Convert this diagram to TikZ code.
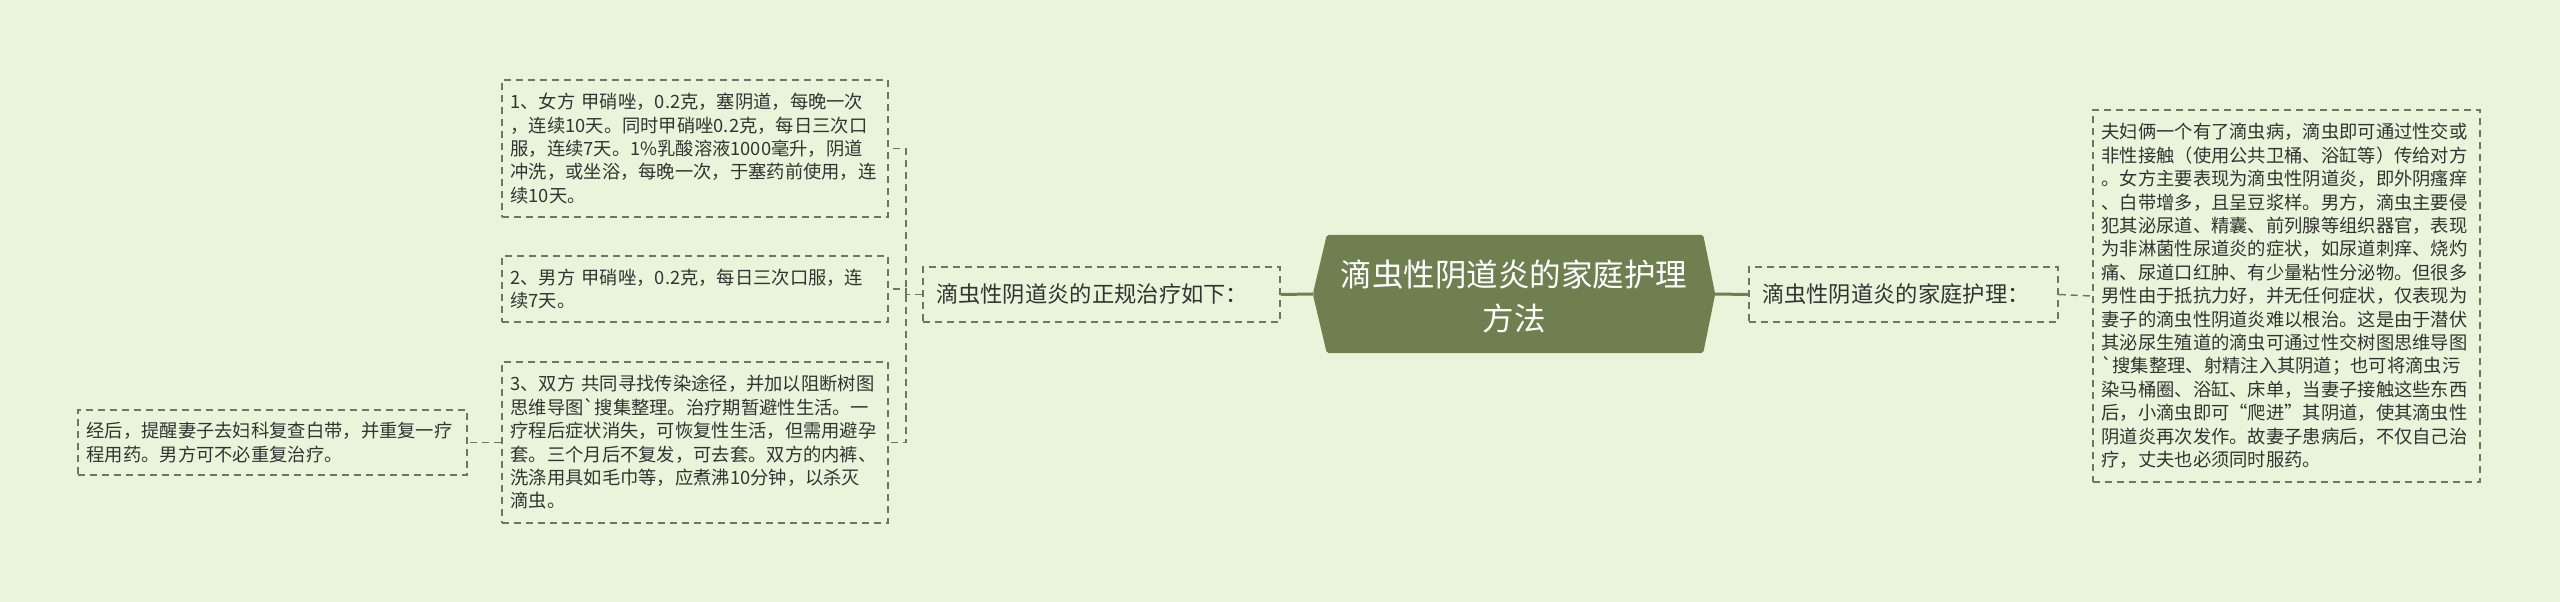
\documentclass[tikz,border=0pt]{standalone}
\usepackage{fontspec}
\setmainfont{Noto Sans CJK SC}[Ligatures=TeXOff]
\definecolor{bgc}{RGB}{233,245,219}
\definecolor{hexc}{RGB}{111,127,80}
\definecolor{linec}{RGB}{110,118,98}
\definecolor{textc}{RGB}{51,51,51}
\begin{document}
\begin{tikzpicture}[x=1pt,y=-1pt,
  dashline/.style={draw=linec,line width=1.5pt,dash pattern=on 7pt off 5pt},
  leafbox/.style={dashline,inner xsep=8.5pt,inner ysep=0pt,align=left,
    text=textc,font=\fontsize{18.3}{23.4}\selectfont},
  topicbox/.style={dashline,inner xsep=13pt,inner ysep=0pt,align=left,
    text=textc,font=\fontsize{22.3}{28}\selectfont,minimum height=55pt},
  mainline/.style={draw=hexc,line width=3pt}
]
\fill[bgc] (0,0) rectangle (2560,602);
\useasboundingbox (0,0) rectangle (2560,602);

% central topic
\node[minimum width=402pt,minimum height=118pt,inner sep=0pt] (hex) at (1514,294) {};
\fill[hexc,rounded corners=2pt] (hex.west) -- ([xshift=14pt]hex.north west) -- ([xshift=-12pt]hex.north east)
  -- (hex.east) -- ([xshift=-12pt]hex.south east) -- ([xshift=14pt]hex.south west) -- cycle;
\node[text=white,align=center,font=\fontsize{31.5}{44}\selectfont] (hextext) at (1514,296)
  {滴虫性阴道炎的家庭护理\\方法};

% level 1
\node[topicbox,text width=331pt] (L) at (1101.5,294.5) {滴虫性阴道炎的正规治疗如下：};
\node[topicbox,text width=283pt] (R) at (1903.5,294.5) {滴虫性阴道炎的家庭护理：};

% right leaf
\node[leafbox,text width=370pt,minimum height=372pt] (big) at (2286.5,296) {%
夫妇俩一个有了滴虫病，滴虫即可通过性交或\\
非性接触（使用公共卫桶、浴缸等）传给对方\\
。女方主要表现为滴虫性阴道炎，即外阴瘙痒\\
、白带增多，且呈豆浆样。男方，滴虫主要侵\\
犯其泌尿道、精囊、前列腺等组织器官，表现\\
为非淋菌性尿道炎的症状，如尿道刺痒、烧灼\\
痛、尿道口红肿、有少量粘性分泌物。但很多\\
男性由于抵抗力好，并无任何症状，仅表现为\\
妻子的滴虫性阴道炎难以根治。这是由于潜伏\\
其泌尿生殖道的滴虫可通过性交树图思维导图\\
`搜集整理、射精注入其阴道；也可将滴虫污\\
染马桶圈、浴缸、床单，当妻子接触这些东西\\
后，小滴虫即可“爬进”其阴道，使其滴虫性\\
阴道炎再次发作。故妻子患病后，不仅自己治\\
疗，丈夫也必须同时服药。};

% left leaves
\node[leafbox,text width=369pt,minimum height=137pt] (b1) at (695,148.5) {%
1、女方 甲硝唑，0.2克，塞阴道，每晚一次\\
，连续10天。同时甲硝唑0.2克，每日三次口\\
服，连续7天。1\%乳酸溶液1000毫升，阴道\\
冲洗，或坐浴，每晚一次，于塞药前使用，连\\
续10天。};
\node[leafbox,text width=369pt,minimum height=66pt] (b2) at (695,289) {%
2、男方 甲硝唑，0.2克，每日三次口服，连\\
续7天。};
\node[leafbox,text width=369pt,minimum height=161pt] (b3) at (695,442.5) {%
3、双方 共同寻找传染途径，并加以阻断树图\\
思维导图`搜集整理。治疗期暂避性生活。一\\
疗程后症状消失，可恢复性生活，但需用避孕\\
套。三个月后不复发，可去套。双方的内裤、\\
洗涤用具如毛巾等，应煮沸10分钟，以杀灭\\
滴虫。};
\node[leafbox,text width=372pt,minimum height=65pt] (b4) at (272.5,442.5) {%
经后，提醒妻子去妇科复查白带，并重复一疗\\
程用药。男方可不必重复治疗。};

% connectors
\draw[mainline] (hex.west) -- (L.east);
\draw[mainline] (hex.east) -- (R.west);
\coordinate (trunk) at (906,294.5);
\draw[dashline] (L.west) -- (trunk) |- (b1.east);
\draw[dashline] (trunk) |- (b2.east);
\draw[dashline] (trunk) |- (b3.east);
\draw[dashline] (R.east) -- (big.west);
\draw[dashline] (b3.west) -- (b4.east);
\end{tikzpicture}
\end{document}
